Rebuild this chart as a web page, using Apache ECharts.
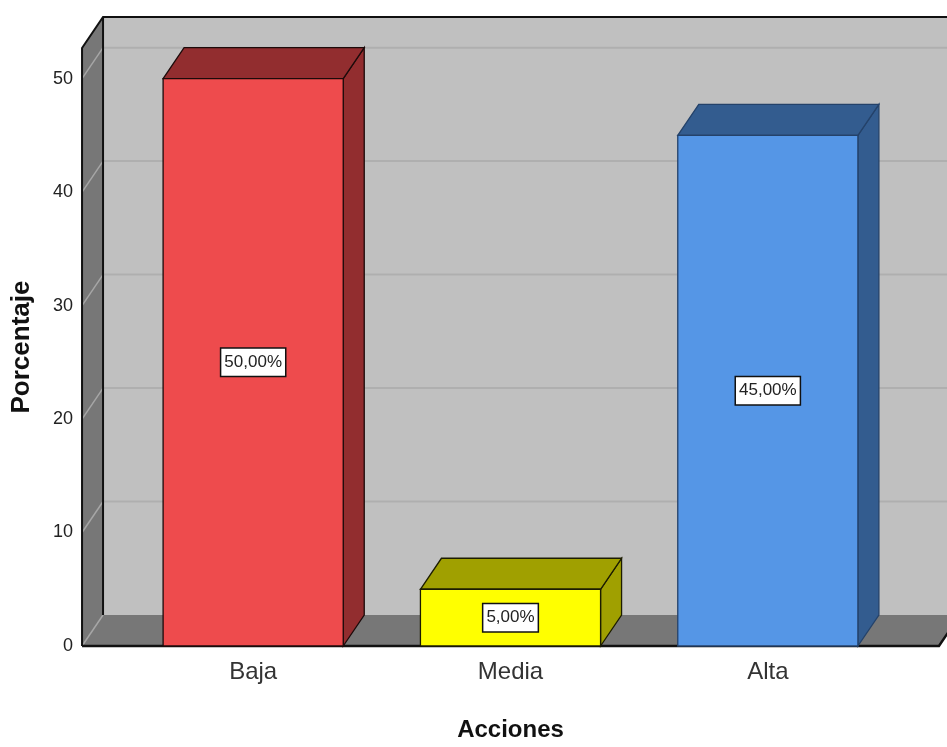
<!DOCTYPE html>
<html>
<head>
<meta charset="utf-8">
<script src="https://cdn.jsdelivr.net/npm/echarts@6/dist/echarts.min.js"></script>
<style>
html,body{margin:0;padding:0;background:#fff;overflow:hidden;}
#chart{width:947px;height:747px;}
</style>
</head>
<body>
<div id="chart"></div>
<script>
// ---- data ----
var categories = ['Baja', 'Media', 'Alta'];
var percentages = [50, 5, 45];
var yTicks = [0, 10, 20, 30, 40, 50];
var xAxisTitle = 'Acciones';
var yAxisTitle = 'Porcentaje';

// ---- styles ----
var FONT = 'Liberation Sans, Arial, sans-serif';
var DX = 21, DY = -31;            // 3D depth offset
var PAD_FRAC = 0.165;             // box extends beyond outer bands
var BAR_FRAC = 0.70;              // bar width as fraction of band
var barColors = [
  {front: '#ee4b4d', dark: '#922d2f', stroke: '#1c0a0a'},
  {front: '#ffff00', dark: '#a0a000', stroke: '#1c1c00'},
  {front: '#5596e6', dark: '#335c8f', stroke: '#24426a'}
];

function fmt(v) { return v.toFixed(2).replace('.', ',') + '%'; }

var el = document.getElementById('chart');
var chart = echarts.init(el, null, {renderer: 'canvas'});

var option = {
  animation: false,
  backgroundColor: '#ffffff',
  grid: {left: 124.5, width: 772, top: 48, height: 603, containLabel: false},
  xAxis: {
    type: 'category',
    data: categories,
    axisLine: {show: false},
    axisTick: {show: false},
    splitLine: {show: false},
    axisLabel: {fontFamily: FONT, fontSize: 24, color: '#333', margin: 14},
    name: xAxisTitle,
    nameLocation: 'middle',
    nameGap: 72,
    nameTextStyle: {fontFamily: FONT, fontSize: 24, fontWeight: 'bold', color: '#111'}
  },
  yAxis: {
    type: 'value',
    min: 0,
    max: 52.7,
    interval: 10,
    axisLine: {show: false},
    axisTick: {show: false},
    splitLine: {show: false},
    axisLabel: {fontFamily: FONT, fontSize: 18, color: '#222', margin: 51.5, showMaxLabel: false,
      padding: [5, 0, 0, 0],
      formatter: function (v) { return yTicks.indexOf(v) >= 0 ? String(v) : ''; }},
    name: yAxisTitle,
    nameLocation: 'middle',
    nameGap: 90,
    nameTextStyle: {fontFamily: FONT, fontSize: 26, fontWeight: 'bold', color: '#111'}
  },
  series: [
    {
      type: 'custom',
      silent: true,
      z: 1,
      data: [[0, 0]],
      renderItem: function (params, api) {
        var cs = params.coordSys;
        var band = api.size([1, 0])[0];
        var pad = band * PAD_FRAC;
        var xL = cs.x - pad, xR = cs.x + cs.width + pad;
        var yT = cs.y, yB = cs.y + cs.height;
        var ch = [];
        // back wall
        ch.push({type: 'rect', shape: {x: xL + DX, y: yT + DY, width: xR - xL, height: yB - yT},
          style: {fill: '#c0c0c0'}});
        // gridlines on back wall
        yTicks.forEach(function (t) {
          if (t === 0) return;
          var yy = api.coord([0, t])[1];
          ch.push({type: 'line', shape: {x1: xL + DX, y1: yy + DY, x2: xR + DX, y2: yy + DY},
            style: {stroke: '#afafaf', lineWidth: 2}});
        });
        // floor
        ch.push({type: 'polygon', shape: {points: [[xL, yB], [xR, yB], [xR + DX, yB + DY], [xL + DX, yB + DY]]},
          style: {fill: '#777777'}});
        // left wall
        ch.push({type: 'polygon', shape: {points: [[xL, yT], [xL + DX, yT + DY], [xL + DX, yB + DY], [xL, yB]]},
          style: {fill: '#777777'}});
        yTicks.forEach(function (t) {
          if (t === 0) return;
          var yy = api.coord([0, t])[1];
          ch.push({type: 'line', shape: {x1: xL, y1: yy, x2: xL + DX, y2: yy + DY},
            style: {stroke: '#a6a6a6', lineWidth: 1.5}});
        });
        ch.push({type: 'line', shape: {x1: xL, y1: yB, x2: xL + DX, y2: yB + DY},
          style: {stroke: '#a6a6a6', lineWidth: 1.5}});
        // black edges
        ch.push({type: 'polyline', shape: {points: [[xL, yB], [xL, yT], [xL + DX, yT + DY], [xR + DX + 20, yT + DY]]},
          style: {stroke: '#111', lineWidth: 2, fill: null}});
        ch.push({type: 'line', shape: {x1: xL + DX, y1: yT + DY, x2: xL + DX, y2: yB + DY},
          style: {stroke: '#111', lineWidth: 2}});
        ch.push({type: 'polyline', shape: {points: [[xL, yB], [xR, yB], [xR + DX, yB + DY]]},
          style: {stroke: '#111', lineWidth: 2.5, fill: null}});
        return {type: 'group', children: ch};
      }
    },
    {
      type: 'custom',
      z: 3,
      data: percentages.map(function (v, i) { return [i, v]; }),
      renderItem: function (params, api) {
        var i = api.value(0), v = api.value(1);
        var base = api.coord([i, 0]);
        var top = api.coord([i, v]);
        var mid = api.coord([i, v / 2]);
        var bw = api.size([1, 0])[0] * BAR_FRAC;
        var x0 = base[0] - bw / 2, x1 = base[0] + bw / 2;
        var y0 = top[1], y1 = base[1];
        var c = barColors[params.dataIndex];
        var sw = 1.3;
        return {type: 'group', children: [
          {type: 'polygon', shape: {points: [[x1, y0], [x1 + DX, y0 + DY], [x1 + DX, y1 + DY], [x1, y1]]},
            style: {fill: c.dark, stroke: c.stroke, lineWidth: sw}},
          {type: 'polygon', shape: {points: [[x0, y0], [x0 + DX, y0 + DY], [x1 + DX, y0 + DY], [x1, y0]]},
            style: {fill: c.dark, stroke: c.stroke, lineWidth: sw}},
          {type: 'rect', shape: {x: x0, y: y0, width: bw, height: y1 - y0},
            style: {fill: c.front, stroke: c.stroke, lineWidth: sw}},
          {type: 'text', x: mid[0], y: mid[1],
            style: {text: fmt(v), fontFamily: FONT, fontSize: 17, lineHeight: 19, fill: '#222',
              align: 'center', verticalAlign: 'middle',
              backgroundColor: '#ffffff', borderColor: '#111', borderWidth: 1.5, padding: [4, 3, 4, 3]}}
        ]};
      }
    }
  ]
};
chart.setOption(option);
</script>
</body>
</html>
